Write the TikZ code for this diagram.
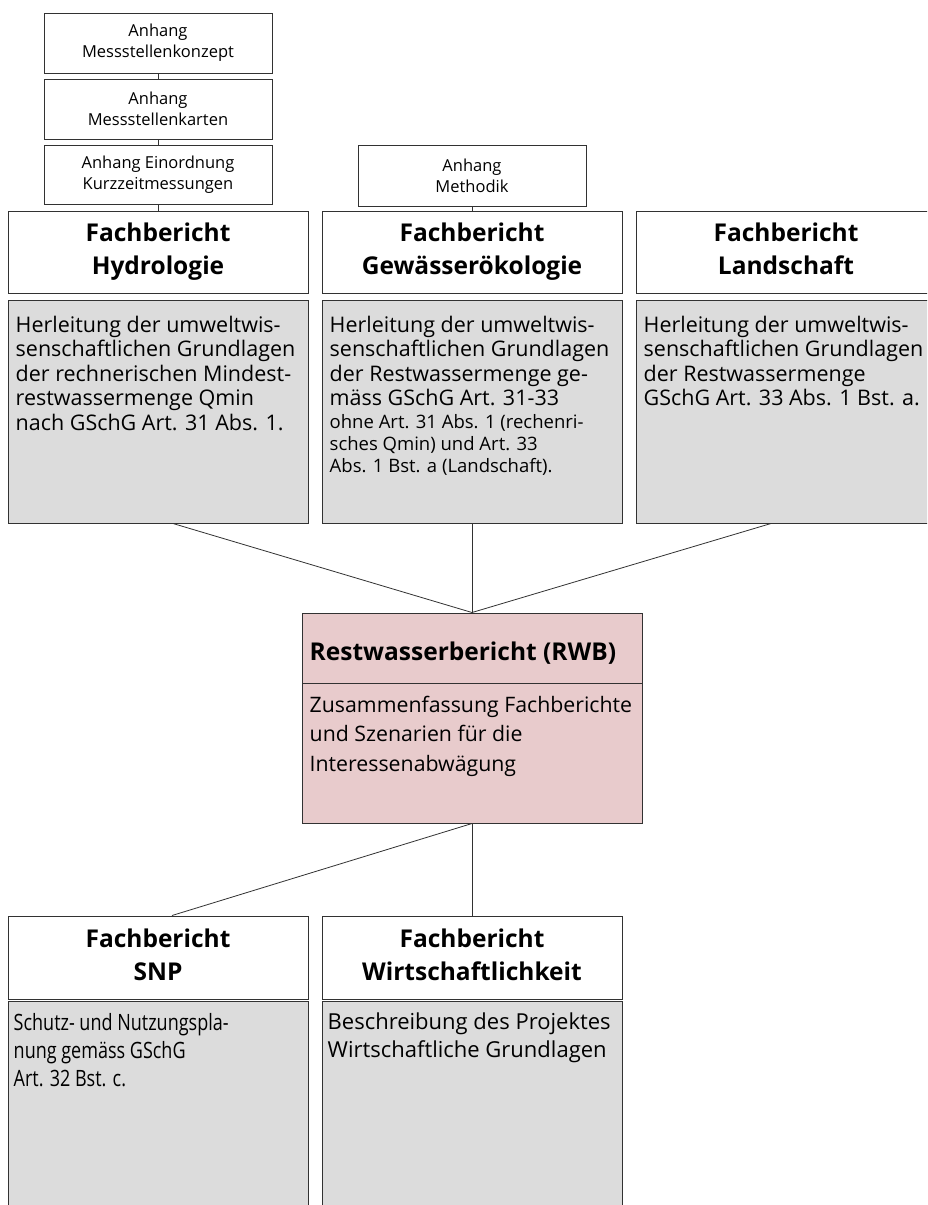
\documentclass[tikz,border=0pt]{standalone}
\usepackage{fontspec}
\setmainfont{Open Sans}
\newfontfamily\tallfont[FakeStretch=0.8]{Open Sans}
\definecolor{linec}{RGB}{50,50,50}
\definecolor{grayc}{RGB}{220,220,220}
\definecolor{pinkc}{RGB}{232,203,204}
\begin{document}
\begin{tikzpicture}[x=1pt,y=-1pt,
  anh/.style={draw=linec, line width=0.9pt, fill=white, minimum width=228pt, minimum height=60pt, inner sep=0pt, align=center, font=\fontsize{16.5}{21}\selectfont},
  hdr/.style={draw=linec, line width=1pt, fill=white, minimum width=300pt, minimum height=82pt, inner sep=0pt, align=center, font=\bfseries\fontsize{24.5}{33}\selectfont},
  bodybox/.style={draw=linec, line width=1pt, fill=grayc, minimum width=300pt, inner sep=0pt},
  btxt/.style={anchor=north west, align=left, inner sep=0pt, font=\fontsize{21.5}{24.5}\selectfont},
  stxt/.style={anchor=north west, align=left, inner sep=0pt, font=\fontsize{18.5}{22}\selectfont},
  conn/.style={draw=linec, line width=0.8pt}
]
\clip (0,0) rectangle (927,1205);
\fill[white] (0,0) rectangle (927,1205);

% Anhang boxes
\node[anh] (a1) at (158,43) {Anhang\\Messstellenkonzept};
\node[anh] (a2) at (158,109) {Anhang\\Messstellenkarten};
\node[anh, minimum height=59pt] (a3) at (158,174.5) {Anhang Einordnung\\Kurzzeitmessungen};
\node[anh, minimum height=61pt] (am) at (472,175.5) {Anhang\\Methodik};

% headers top
\node[hdr] (hh) at (158,252) {Fachbericht\\Hydrologie};
\node[hdr] (gh) at (472,252) {Fachbericht\\Gewässerökologie};
\node[hdr] (lh) at (786,252) {Fachbericht\\Landschaft\vphantom{g}};

% bodies top
\node[bodybox, minimum height=223pt] (hb) at (158,411.5) {};
\node[bodybox, minimum height=223pt] (gb) at (472,411.5) {};
\node[bodybox, minimum height=223pt] (lb) at (786,411.5) {};

\node[btxt] (ht) at ([xshift=8pt,yshift=-16pt]hb.north west) {Herleitung der umweltwis-\\senschaftlichen Grundlagen\\der rechnerischen Mindest-\\restwassermenge Qmin\\nach GSchG Art. 31 Abs. 1.};
\node[btxt] (gt) at ([xshift=8pt,yshift=-16pt]gb.north west) {Herleitung der umweltwis-\\senschaftlichen Grundlagen\\der Restwassermenge ge-\\mäss GSchG Art. 31-33};
\node[stxt] (gt2) at ([yshift=-8pt]gt.south west) {ohne Art. 31 Abs. 1 (rechenri-\\sches Qmin) und Art. 33\\Abs. 1 Bst. a (Landschaft).};
\node[btxt] (lt) at ([xshift=8pt,yshift=-16pt]lb.north west) {Herleitung der umweltwis-\\senschaftlichen Grundlagen\\der Restwassermenge\\GSchG Art. 33 Abs. 1 Bst. a.};

% RWB
\node[draw=linec, line width=1pt, fill=pinkc, minimum width=340pt, minimum height=70pt, inner sep=0pt] (rh) at (472,648) {};
\node[anchor=west, inner sep=0pt, font=\bfseries\fontsize{24.5}{28}\selectfont] (rtitle) at ([xshift=8pt,yshift=-5pt]rh.west) {Restwasserbericht (RWB)};
\node[draw=linec, line width=1pt, fill=pinkc, minimum width=340pt, minimum height=140pt, inner sep=0pt] (rb) at (472,753) {};
\node[btxt, font=\fontsize{21.3}{29.5}\selectfont] (rt) at ([xshift=8pt,yshift=-13pt]rb.north west) {Zusammenfassung Fachberichte\\und Szenarien für die\\Interessenabwägung};

% bottom
\node[hdr, minimum height=83pt] (sh) at (158,957.5) {Fachbericht\\SNP\vphantom{g}};
\node[hdr, minimum height=83pt] (wh) at (472,957.5) {Fachbericht\\Wirtschaftlichkeit\vphantom{g}};
\node[bodybox, minimum height=230pt] (sb) at (158,1116) {};
\node[bodybox, minimum height=230pt] (wb) at (472,1116) {};
\node[btxt, font=\tallfont\fontsize{22.5}{28}\selectfont] (st) at ([xshift=6pt,yshift=-12.5pt]sb.north west) {Schutz- und Nutzungspla-\\nung gemäss GSchG\\Art. 32 Bst. c.};
\node[btxt, font=\fontsize{22}{28}\selectfont] (wt) at ([xshift=6pt,yshift=-12.5pt]wb.north west) {Beschreibung des Projektes\\Wirtschaftliche Grundlagen};

% connectors
\draw[conn] (a1.south) -- (a2.north);
\draw[conn] (a2.south) -- (a3.north);
\draw[conn] (a3.south) -- (hh.north);
\draw[conn] (am.south) -- (gh.north);
\draw[conn] ([xshift=15pt]hb.south) -- (rh.north);
\draw[conn] (gb.south) -- (rh.north);
\draw[conn] ([xshift=-15pt]lb.south) -- (rh.north);
\draw[conn] (rb.south) -- ([xshift=14pt]sh.north);
\draw[conn] (rb.south) -- (wh.north);
\end{tikzpicture}
\end{document}
